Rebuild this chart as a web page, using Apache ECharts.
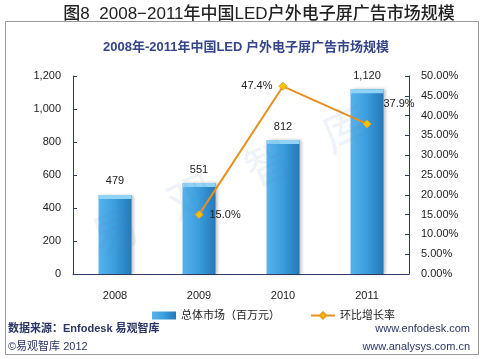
<!DOCTYPE html>
<html><head><meta charset="utf-8">
<script src="https://cdn.jsdelivr.net/npm/echarts@6/dist/echarts.min.js"></script>
<style>html,body{margin:0;padding:0;background:#fff}#c{width:483px;height:359px}</style>
</head><body><div id="c"></div>
<script>
const categories = ['2008', '2009', '2010', '2011'];
const marketValues = [479, 551, 812, 1120];
const growthRates = [null, 15.0, 47.4, 37.9];
const leftTicks = [0, 200, 400, 600, 800, 1000, 1200];
const rightTicks = [0, 5, 10, 15, 20, 25, 30, 35, 40, 45, 50];

const chart = echarts.init(document.getElementById('c'));
const navy = '#2f3d66';
const font = 'Arial, "Liberation Sans", "Noto Sans CJK SC", sans-serif';
const growthLabelPos = [null, 'right', 'left', 'top'];

chart.setOption({
  animation: false,
  textStyle: { fontFamily: font },
  graphic: [
    { type: 'rect', shape: { x: 5.5, y: 21.5, width: 473, height: 333 }, style: { fill: 'none', stroke: '#9a9a9a', lineWidth: 1 } },
    { type: 'rect', shape: { x: 150, y: 2, width: 300, height: 19 }, style: { fill: '#fff' } },
    { type: 'text', x: 259, y: 14, style: { text: '图8  2008−2011年中国LED户外电子屏广告市场规模', fontSize: 17, fontWeight: 500, fill: '#222', align: 'center', verticalAlign: 'middle', fontFamily: font } },
    { type: 'text', x: 246, y: 47, style: { text: '2008年-2011年中国LED 户外电子屏广告市场规模', fontSize: 13, fontWeight: 'bold', fill: '#34458a', align: 'center', verticalAlign: 'middle', fontFamily: font } },
    { type: 'text', x: 8, y: 329, style: { text: '数据来源：Enfodesk 易观智库', fontSize: 11, fontWeight: 'bold', fill: '#2b3566', verticalAlign: 'middle', fontFamily: font } },
    { type: 'text', x: 8, y: 347, style: { text: '©易观智库 2012', fontSize: 11, fill: '#2b3566', verticalAlign: 'middle', fontFamily: font } },
    { type: 'text', x: 470, y: 329, style: { text: 'www.enfodesk.com', fontSize: 11, fill: '#2b3566', align: 'right', verticalAlign: 'middle', fontFamily: font } },
    { type: 'text', x: 470, y: 347, style: { text: 'www.analysys.com.cn', fontSize: 11, fill: '#2b3566', align: 'right', verticalAlign: 'middle', fontFamily: font } },
    { type: 'text', x: 95, y: 245, rotation: 0.42, z: 100, silent: true, style: { text: '易   观   智   库', fontSize: 46, fill: 'rgba(90,130,200,0.10)', verticalAlign: 'middle', fontFamily: font } }
  ],
  legend: {
    top: 305, left: 147, itemGap: 30, itemWidth: 24, itemHeight: 8,
    textStyle: { fontSize: 11, color: '#222', fontFamily: font },
    data: [
      { name: '总体市场（百万元）', icon: 'rect' },
      { name: '环比增长率' }
    ]
  },
  grid: { left: 73, right: 74, top: 76, bottom: 85, containLabel: false },
  xAxis: {
    type: 'category', data: categories,
    axisLine: { lineStyle: { color: navy, width: 1 } },
    axisTick: { inside: true, length: 4, lineStyle: { color: navy } },
    axisLabel: { fontSize: 11, color: '#222', margin: 16 }
  },
  yAxis: [
    {
      type: 'value', min: leftTicks[0], max: leftTicks[leftTicks.length - 1], interval: 200,
      axisLine: { show: true, lineStyle: { color: navy } },
      axisTick: { show: true, inside: true, length: 4, lineStyle: { color: navy } },
      splitLine: { show: false },
      axisLabel: { fontSize: 11, color: '#222', margin: 12, formatter: v => v.toLocaleString('en-US') }
    },
    {
      type: 'value', min: rightTicks[0], max: rightTicks[rightTicks.length - 1], interval: 5,
      axisLine: { show: true, lineStyle: { color: navy } },
      axisTick: { show: true, inside: true, length: 4, lineStyle: { color: navy } },
      splitLine: { show: false },
      axisLabel: { fontSize: 11, color: '#222', margin: 12, formatter: v => v.toFixed(2) + '%' }
    }
  ],
  series: [
    {
      name: '总体市场（百万元）', type: 'bar', data: marketValues, barWidth: 33,
      itemStyle: {
        color: new echarts.graphic.LinearGradient(0, 0, 1, 0, [
          { offset: 0, color: '#58b2ea' },
          { offset: 0.5, color: '#3a9ddd' },
          { offset: 1, color: '#2478b8' }
        ]),
        shadowColor: 'rgba(0,0,0,0.25)', shadowBlur: 3, shadowOffsetX: 2, shadowOffsetY: 0
      },
      label: { show: true, position: 'top', distance: 8, fontSize: 11, color: '#222', formatter: p => p.value.toLocaleString('en-US') }
    },
    {
      name: 'cap', type: 'pictorialBar', data: marketValues, symbol: 'rect',
      symbolSize: [33, 4], symbolPosition: 'end', symbolOffset: [0, 0],
      itemStyle: { color: '#8fd3f6' }, z: 3, silent: true, label: { show: false }
    },
    {
      name: '环比增长率', type: 'line', yAxisIndex: 1,
      data: growthRates.map((v, i) => ({ value: v, label: { position: growthLabelPos[i] || 'top', offset: i === 3 ? [32, -4] : [0, 0] } })),
      symbol: 'diamond', symbolSize: 8, connectNulls: false, z: 5,
      lineStyle: { color: '#e8901c', width: 2 },
      itemStyle: { color: '#f5c400', borderColor: '#e8a01c', borderWidth: 1 },
      label: { show: true, fontSize: 11, color: '#222', distance: 6, formatter: p => p.value.toFixed(1) + '%' }
    }
  ]
});
</script></body></html>
